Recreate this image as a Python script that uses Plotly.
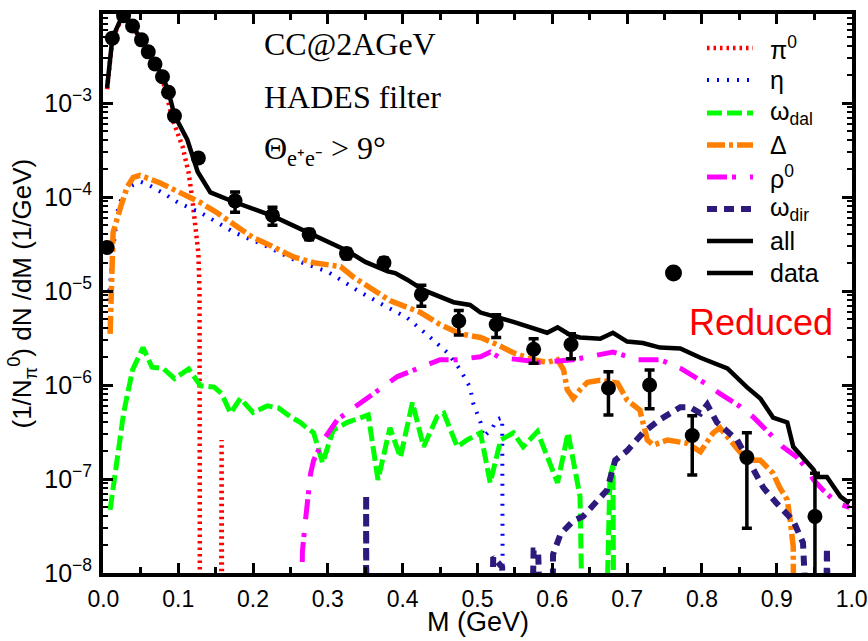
import plotly.graph_objects as go

# Dilepton invariant-mass spectrum, C+C at 2 AGeV inside the HADES acceptance.
# Bins that are empty are stored as EMPTY, far below the lower edge of the log axis.
EMPTY = 1e-12

# ---- model components (M in GeV, (1/N_pi0) dN/dM in 1/GeV) ----
pi0_m = [0.005, 0.012, 0.026, 0.039, 0.051, 0.060, 0.069, 0.079, 0.087, 0.094,
         0.106, 0.114, 0.119, 0.123, 0.127, 0.1285, 0.1295, 0.1565, 0.158, 0.1595]
pi0_y = [1.4e-3, 4.8e-3, 8.5e-3, 6.5e-3, 4.6e-3, 3.4e-3, 2.5e-3, 1.8e-3, 1.0e-3, 6.2e-4,
         3.4e-4, 1.8e-4, 9.3e-5, 4.8e-5, 2.5e-5, 1.0e-5, EMPTY, EMPTY, 2.6e-7, EMPTY]

eta_m = [0.007, 0.013, 0.020, 0.030, 0.040, 0.050, 0.060, 0.080, 0.100, 0.112,
         0.130, 0.175, 0.220, 0.255, 0.300, 0.317, 0.339, 0.374, 0.406, 0.437,
         0.460, 0.477, 0.490, 0.494, 0.504, 0.508, 0.520, 0.526, 0.533, 0.535]
eta_y = [7.9e-6, 2.75e-5, 8.1e-5, 1.17e-4, 1.35e-4, 1.45e-4, 1.35e-4, 1.1e-4, 8.7e-5, 7.8e-5,
         6.8e-5, 4.2e-5, 2.95e-5, 2.15e-5, 1.6e-5, 1.32e-5, 1.02e-5, 7.1e-6, 5.2e-6, 3.2e-6,
         2.2e-6, 1.45e-6, 9.5e-7, 6.5e-7, 4.0e-7, 2.8e-7, 3.5e-7, 4.3e-7, 4.5e-7, EMPTY]

omega_dal_m = [0.009, 0.019, 0.027, 0.039, 0.053, 0.065, 0.080, 0.095, 0.114, 0.130,
               0.148, 0.158, 0.170, 0.183, 0.200, 0.219, 0.234, 0.250, 0.263, 0.272,
               0.281, 0.293, 0.307, 0.326, 0.354, 0.367, 0.383, 0.397, 0.413, 0.428,
               0.446, 0.455, 0.473, 0.486, 0.504, 0.517, 0.531, 0.548, 0.561, 0.580,
               0.607, 0.621, 0.637, 0.648, 0.662, 0.677, 0.681, 0.684]
omega_dal_y = [4.7e-8, 1.9e-7, 5.0e-7, 1.45e-6, 2.5e-6, 1.55e-6, 1.5e-6, 1.17e-6, 1.48e-6, 9.8e-7,
               9.5e-7, 8.1e-7, 5.0e-7, 7.2e-7, 5.1e-7, 6.0e-7, 5.7e-7, 4.6e-7, 4.0e-7, 3.5e-7,
               3.1e-7, 1.48e-7, 3.3e-7, 4.0e-7, 4.8e-7, 9.8e-8, 3.5e-7, 1.7e-7, 6.5e-7, 2.2e-7,
               4.6e-7, 5.0e-7, 2.2e-7, 2.6e-7, 3.1e-7, 9.1e-8, 2.6e-7, 3.1e-7, 2.2e-7, 3.2e-7,
               9.1e-8, 3.1e-7, 6.5e-8, EMPTY, EMPTY, 1.05e-7, 1.4e-7, EMPTY]

delta_m = [0.009, 0.013, 0.023, 0.032, 0.040, 0.049, 0.076, 0.103, 0.130, 0.152,
           0.174, 0.200, 0.227, 0.254, 0.281, 0.317, 0.334, 0.361, 0.383, 0.424,
           0.450, 0.477, 0.504, 0.526, 0.548, 0.574, 0.593, 0.607, 0.615, 0.620,
           0.628, 0.637, 0.647, 0.664, 0.687, 0.700, 0.717, 0.727, 0.735, 0.754,
           0.780, 0.798, 0.815, 0.824, 0.842, 0.860, 0.878, 0.895, 0.904, 0.914,
           0.918, 0.922, 0.924]
delta_y = [3.5e-6, 4.2e-5, 7.8e-5, 1.29e-4, 1.62e-4, 1.70e-4, 1.41e-4, 1.10e-4, 8.7e-5, 6.8e-5,
           5.2e-5, 3.7e-5, 2.95e-5, 2.3e-5, 2.0e-5, 1.82e-5, 1.41e-5, 1.02e-5, 7.9e-6, 5.9e-6,
           4.4e-6, 3.5e-6, 3.2e-6, 2.7e-6, 2.2e-6, 1.86e-6, 1.74e-6, 1.86e-6, 1.45e-6, 8.9e-7,
           7.2e-7, 8.9e-7, 1.07e-6, 1.12e-6, 1.05e-6, 6.9e-7, 5.4e-7, 2.6e-7, 2.3e-7, 2.6e-7,
           2.4e-7, 1.95e-7, 3.1e-7, 3.5e-7, 2.4e-7, 1.58e-7, 1.58e-7, 1.15e-7, 8.1e-8, 6.0e-8,
           3.6e-8, 1.9e-8, EMPTY]

rho_m = [0.261, 0.266, 0.270, 0.273, 0.277, 0.281, 0.294, 0.313, 0.343, 0.361,
         0.393, 0.414, 0.450, 0.473, 0.504, 0.517, 0.530, 0.557, 0.584, 0.628,
         0.681, 0.713, 0.744, 0.771, 0.798, 0.824, 0.851, 0.868, 0.887, 0.908,
         0.927, 0.941, 0.949, 0.962, 0.981, 0.997]
rho_y = [EMPTY, 1.7e-8, 3.6e-8, 5.5e-8, 1.15e-7, 1.58e-7, 2.6e-7, 4.3e-7, 6.5e-7, 8.1e-7,
         1.23e-6, 1.45e-6, 1.86e-6, 1.86e-6, 2.0e-6, 2.24e-6, 1.95e-6, 1.86e-6, 1.74e-6, 1.86e-6,
         2.24e-6, 1.86e-6, 1.86e-6, 1.51e-6, 1.12e-6, 8.1e-7, 5.9e-7, 4.6e-7, 3.3e-7, 2.2e-7,
         1.7e-7, 1.26e-7, 9.8e-8, 7.6e-8, 5.5e-8, 5.0e-8]

omega_dir_m = [0.3505, 0.3512, 0.352, 0.513, 0.521, 0.533, 0.537, 0.564, 0.575, 0.581,
               0.588, 0.597, 0.601, 0.611, 0.628, 0.641, 0.673, 0.684, 0.700, 0.721,
               0.744, 0.771, 0.784, 0.798, 0.807, 0.820, 0.847, 0.864, 0.882, 0.900,
               0.922, 0.935, 0.949, 0.961, 0.967, 0.975]
omega_dir_y = [EMPTY, 6.8e-8, EMPTY, EMPTY, 1.48e-8, 1.15e-8, EMPTY, EMPTY, 1.74e-8, 1.74e-8,
               EMPTY, EMPTY, 1.58e-8, 2.6e-8, 3.6e-8, 4.0e-8, 7.6e-8, 1.58e-7, 2.0e-7, 3.1e-7,
               4.3e-7, 5.8e-7, 5.8e-7, 5.0e-7, 6.2e-7, 4.0e-7, 2.6e-7, 1.48e-7, 8.1e-8, 5.5e-8,
               3.6e-8, 2.1e-8, EMPTY, EMPTY, 1.86e-8, EMPTY]

all_m = [0.005, 0.012, 0.026, 0.039, 0.051, 0.060, 0.069, 0.079, 0.087, 0.095,
         0.112, 0.126, 0.143, 0.174, 0.226, 0.275, 0.325, 0.350, 0.380, 0.390,
         0.406, 0.428, 0.468, 0.490, 0.504, 0.548, 0.593, 0.607, 0.624, 0.637,
         0.664, 0.681, 0.700, 0.721, 0.744, 0.771, 0.798, 0.834, 0.860, 0.878,
         0.895, 0.914, 0.922, 0.949, 0.954, 0.967, 0.985, 0.997]
all_y = [1.45e-3, 4.9e-3, 8.7e-3, 6.6e-3, 4.7e-3, 3.5e-3, 2.6e-3, 1.95e-3, 1.32e-3, 7.4e-4,
         4.1e-4, 1.86e-4, 1.12e-4, 8.9e-5, 6.3e-5, 4.2e-5, 2.7e-5, 2.04e-5, 1.62e-5, 1.55e-5,
         1.32e-5, 1.02e-5, 7.6e-6, 7.1e-6, 5.9e-6, 4.7e-6, 3.6e-6, 4.1e-6, 3.4e-6, 3.2e-6,
         3.1e-6, 3.6e-6, 2.9e-6, 2.8e-6, 2.5e-6, 2.45e-6, 1.95e-6, 1.5e-6, 9.5e-7, 7.2e-7,
         4.5e-7, 4.0e-7, 2.2e-7, 1.26e-7, 1.05e-7, 1.05e-7, 6.5e-8, 5.5e-8]

# ---- HADES data ----
data_m = [0.005, 0.012, 0.027, 0.039, 0.051, 0.060, 0.069, 0.079, 0.087, 0.095,
          0.127, 0.176, 0.226, 0.275, 0.325, 0.375, 0.425, 0.475, 0.525, 0.575,
          0.625, 0.675, 0.730, 0.787, 0.860, 0.951]
data_y = [2.9e-5, 4.9e-3, 8.5e-3, 6.6e-3, 4.7e-3, 3.5e-3, 2.6e-3, 1.9e-3, 1.3e-3, 7.3e-4,
          2.6e-4, 9.1e-5, 6.4e-5, 4.0e-5, 2.5e-5, 2.0e-5, 9.2e-6, 4.8e-6, 4.4e-6, 2.4e-6,
          2.7e-6, 9.3e-7, 1.0e-6, 2.9e-7, 1.7e-7, 4.0e-8]
data_err = [2e-6, 3e-4, 5e-4, 4e-4, 3e-4, 2e-4, 1.5e-4, 1.2e-4, 8e-5, 5e-5,
            2.5e-5, 2.2e-5, 1.4e-5, 5e-6, 3e-6, 2.5e-6, 2.3e-6, 1.4e-6, 1.2e-6, 7e-7,
            8e-7, 4.5e-7, 4.4e-7, 1.8e-7, 1.4e-7, 7.5e-8]

x_ticks = [0.0, 0.1, 0.2, 0.3, 0.4, 0.5, 0.6, 0.7, 0.8, 0.9, 1.0]
x_tick_text = ["0.0", "0.1", "0.2", "0.3", "0.4", "0.5", "0.6", "0.7", "0.8", "0.9", "1.0"]

# ---- styles ----
series = [
    ("π<sup>0</sup>", pi0_m, pi0_y, dict(color="#ff0000", width=4.5, dash="2.5px,4px")),
    ("η", eta_m, eta_y, dict(color="#0000ff", width=4, dash="2px,8px")),
    ("ω<sub>dal</sub>", omega_dal_m, omega_dal_y, dict(color="#00ff00", width=5, dash="15px,5px")),
    ("Δ", delta_m, delta_y, dict(color="#ff8000", width=5.5, dash="18px,4px,4px,4px")),
    ("ρ<sup>0</sup>", rho_m, rho_y, dict(color="#ff00ff", width=5, dash="20px,5px,4px,14px")),
    ("ω<sub>dir</sub>", omega_dir_m, omega_dir_y, dict(color="#2d1a7c", width=6, dash="10px,7px")),
    ("all", all_m, all_y, dict(color="#000000", width=4.5)),
]

X_RANGE = [-0.0005, 1.0005]
Y_RANGE = [-8, -2.053]

fig = go.Figure()
for name, m, y, line in series:
    fig.add_trace(go.Scatter(x=m, y=y, mode="lines", name=name, line=line,
                             showlegend=False, hoverinfo="skip"))

fig.add_trace(go.Scatter(
    x=data_m, y=data_y, mode="markers", name="data", showlegend=False,
    marker=dict(color="black", size=15),
    error_y=dict(type="data", array=data_err, visible=True,
                 color="black", thickness=3.5, width=5),
))

# empty trace that carries the top/right tick axes
fig.add_trace(go.Scatter(x=[None], y=[None], xaxis="x2", yaxis="y2",
                         showlegend=False, hoverinfo="skip"))

# plot-area geometry in pixels
W, H = 868, 641
ML, MR, MT, MB = 103, 16, 14, 68
PW, PH = W - ML - MR, H - MT - MB


def px(xp):
    return (xp - ML) / PW


def py(yp):
    return (H - MB - yp) / PH


# legend key, drawn in the upper right corner
shapes = []
annotations = []
key_font = dict(size=25, color="black", family="Liberation Sans")
key_rows = [48, 80, 113, 145, 177, 209, 241]
for (name, _, _, line), row in zip(series, key_rows):
    shapes.append(dict(type="line", xref="paper", yref="paper",
                       x0=px(707), x1=px(753), y0=py(row), y1=py(row),
                       line=line))
    annotations.append(dict(text=name, xref="paper", yref="paper",
                            x=px(768), y=py(row), xanchor="left", yanchor="middle",
                            showarrow=False, font=key_font))
row = 273
shapes.append(dict(type="line", xref="paper", yref="paper",
                   x0=px(707), x1=px(753), y0=py(row), y1=py(row),
                   line=dict(color="black", width=4.5)))
shapes.append(dict(type="circle", xref="paper", yref="paper",
                   x0=px(665), x1=px(682), y0=py(row + 8.5), y1=py(row - 8.5),
                   fillcolor="black", line=dict(color="black", width=0)))
annotations.append(dict(text="data", xref="paper", yref="paper",
                        x=px(768), y=py(row), xanchor="left", yanchor="middle",
                        showarrow=False, font=key_font))

serif = dict(size=32, color="black", family="Liberation Serif")
for text, yp in [("CC@2AGeV", 44), ("HADES filter", 97),
                 ("Θ<sub>e⁺e⁻</sub> > 9°", 150)]:
    annotations.append(dict(text=text, xref="paper", yref="paper",
                            x=px(262), y=py(yp), xanchor="left", yanchor="middle",
                            showarrow=False, font=serif))
annotations.append(dict(text="Reduced", xref="paper", yref="paper",
                        x=px(835), y=py(322), xanchor="right", yanchor="middle",
                        showarrow=False,
                        font=dict(size=36, color="#ff0000", family="Liberation Sans")))

# axis titles
annotations.append(dict(text="M (GeV)", xref="paper", yref="paper",
                        x=0.5, y=py(622), xanchor="center", yanchor="middle",
                        showarrow=False,
                        font=dict(size=27, color="black", family="Liberation Sans")))
annotations.append(dict(text="(1/N<sub>π</sub><sup>0</sup>) dN /dM (1/GeV)",
                        xref="paper", yref="paper", x=px(22), y=0.5,
                        xanchor="center", yanchor="middle", textangle=-90,
                        showarrow=False,
                        font=dict(size=26, color="black", family="Liberation Sans")))

tick_style = dict(ticks="inside", ticklen=10, tickwidth=3, tickcolor="black",
                  showgrid=False, zeroline=False, automargin=False)
x_minor = dict(ticks="inside", ticklen=6, tickwidth=2.5, dtick=0.05, tickcolor="black")
y_minor = dict(ticks="inside", ticklen=5, tickwidth=2, dtick="D1", tickcolor="black")

fig.update_layout(
    width=W, height=H,
    margin=dict(l=ML, r=MR, t=MT, b=MB, pad=0, autoexpand=False),
    paper_bgcolor="white", plot_bgcolor="white",
    showlegend=False,
    shapes=shapes, annotations=annotations,
    xaxis=dict(
        range=X_RANGE, tickvals=x_ticks, ticktext=x_tick_text,
        showline=True, linecolor="black", linewidth=4, mirror=True,
        minor=x_minor,
        tickfont=dict(size=23, color="black", family="Liberation Sans"),
        ticklabeloverflow="allow", ticklabelstandoff=2,
        **tick_style,
    ),
    yaxis=dict(
        type="log", range=Y_RANGE, dtick=1, exponentformat="power",
        showline=True, linecolor="black", linewidth=4, mirror=True,
        minor=y_minor,
        tickfont=dict(size=20, color="black", family="Liberation Sans"),
        ticklabelstandoff=3,
        **tick_style,
    ),
    xaxis2=dict(
        overlaying="x", side="top", anchor="y", range=X_RANGE, tickvals=x_ticks,
        showticklabels=False, showline=False, minor=x_minor, **tick_style,
    ),
    yaxis2=dict(
        overlaying="y", side="right", anchor="x", type="log", range=Y_RANGE, dtick=1,
        showticklabels=False, showline=False, minor=y_minor, **tick_style,
    ),
)

fig.write_html("out.html")
